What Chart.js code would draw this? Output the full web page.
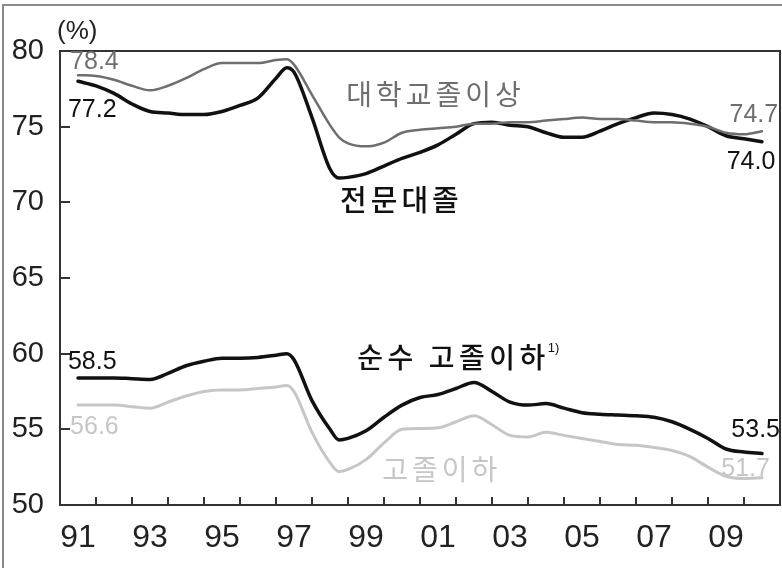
<!DOCTYPE html>
<html>
<head>
<meta charset="utf-8">
<script src="https://cdn.jsdelivr.net/npm/chart.js@4.4.0/dist/chart.umd.min.js"></script>
<style>
  html, body { margin: 0; padding: 0; background: #fff; }
  #wrap { width: 782px; height: 568px; position: relative; }
</style>
</head>
<body>
<div id="wrap"><canvas id="chart" width="782" height="568"></canvas></div>
<script>
// x positions in years (half-year steps, a few extra points around 1997-98)
const years = [1991.5,1992,1992.5,1993,1993.5,1994,1994.5,1995,1995.5,1996,1996.5,1997,
  1997.3,1997.5,1998,1998.5,1998.75,1999,
  1999.5,2000,2000.5,2001,2001.5,2002,2002.5,2003,2003.5,2004,2004.5,2005,2005.5,2006,
  2006.5,2007,2007.5,2008,2008.5,2009,2009.5,2010,2010.5];

// 대학교졸이상
const univ = [78.4,78.35,78.1,77.7,77.4,77.7,78.2,78.8,79.2,79.2,79.2,79.4,
  79.45,79.1,77.1,75.1,74.3,73.9,
  73.7,73.95,74.6,74.8,74.9,75.0,75.2,75.2,75.3,75.3,75.4,75.5,75.6,75.5,
  75.5,75.4,75.3,75.3,75.2,75.0,74.6,74.5,74.7];

// 전문대졸
const college = [78.0,77.7,77.2,76.5,76.0,75.9,75.8,75.8,76.0,76.4,76.9,78.2,
  78.9,78.6,75.6,72.2,71.6,71.65,
  71.9,72.4,72.9,73.3,73.8,74.5,75.2,75.3,75.1,75.0,74.6,74.3,74.3,74.7,
  75.2,75.6,75.9,75.8,75.5,75.0,74.4,74.2,74.0];

// 순수 고졸이하
const pureHigh = [58.4,58.4,58.4,58.35,58.3,58.7,59.2,59.5,59.7,59.7,59.75,59.9,
  60.0,59.6,56.9,55.0,54.3,54.4,
  54.9,55.8,56.6,57.1,57.3,57.7,58.1,57.5,56.8,56.6,56.7,56.4,56.1,56.0,
  55.95,55.9,55.8,55.5,55.0,54.4,53.7,53.5,53.4];

// 고졸이하
const high = [56.6,56.6,56.6,56.5,56.4,56.8,57.2,57.5,57.6,57.6,57.7,57.8,
  57.9,57.5,54.8,52.8,52.2,52.35,
  53.0,54.1,55.0,55.05,55.1,55.5,55.9,55.3,54.6,54.5,54.8,54.6,54.4,54.2,
  54.0,53.95,53.8,53.6,53.2,52.5,51.9,51.75,51.8];

const xLabelYears = [1991,1993,1995,1997,1999,2001,2003,2005,2007,2009];
const xLabels = ['91','93','95','97','99','01','03','05','07','09'];
const yTicks = [50,55,60,65,70,75,80];

const BLACK = '#111111';
const GRAY = '#6e6e6e';
const LIGHT = '#c6c6c6';
const NUM_FONT = "'Liberation Sans', Arial, sans-serif";
const KR_FONT = "'Noto Sans CJK KR', 'Noto Sans', sans-serif";

// text labels placed in data coordinates: [text, year, value, color, align, font, spacing]
const notes = [
  ['78.4', 1991.28, 79.25, GRAY, 'left', '25px ' + NUM_FONT, 0],
  ['77.2', 1991.22, 76.1, BLACK, 'left', '25px ' + NUM_FONT, 0],
  ['대학교졸이상', 1998.95, 77.15, GRAY, 'left', '28px ' + KR_FONT, 4],
  ['74.7', 2010.95, 75.77, GRAY, 'right', '25px ' + NUM_FONT, 0],
  ['74.0', 2010.87, 72.66, BLACK, 'right', '25px ' + NUM_FONT, 0],
  ['전문대졸', 1998.78, 70.15, BLACK, 'left', '500 29px ' + KR_FONT, 4],
  ['58.5', 1991.22, 59.45, BLACK, 'left', '25px ' + NUM_FONT, 0],
  ['56.6', 1991.28, 55.15, LIGHT, 'left', '25px ' + NUM_FONT, 0],
  ['순수 고졸이하', 1999.26, 59.78, BLACK, 'left', '500 28px ' + KR_FONT, 4.5],
  ['53.5', 2011.0, 54.95, BLACK, 'right', '25px ' + NUM_FONT, 0],
  ['고졸이하', 1999.95, 52.37, LIGHT, 'left', '28px ' + KR_FONT, 4],
  ['51.7', 2010.72, 52.37, LIGHT, 'right', '25px ' + NUM_FONT, 0]
];

const toPoints = arr => arr.map((v, i) => ({ x: years[i], y: v }));

const framePlugin = {
  id: 'frame',
  afterDraw(chart) {
    const { ctx, chartArea: a, scales: { x, y } } = chart;
    ctx.save();
    // outer picture frame
    ctx.strokeStyle = '#8a8a8a';
    ctx.lineWidth = 2;
    ctx.beginPath();
    ctx.moveTo(3, 568); ctx.lineTo(3, 5); ctx.lineTo(782, 5);
    ctx.stroke();
    // plot box
    ctx.strokeStyle = '#333';
    ctx.lineWidth = 2;
    ctx.strokeRect(a.left, a.top, a.right - a.left, a.bottom - a.top);
    // inward tick marks
    ctx.beginPath();
    for (let yr = 1992; yr <= 2010; yr++) {
      const px = Math.round(x.getPixelForValue(yr));
      ctx.moveTo(px, a.bottom); ctx.lineTo(px, a.bottom - 8);
    }
    yTicks.slice(1, -1).forEach(v => {
      const py = Math.round(y.getPixelForValue(v));
      ctx.moveTo(a.left, py); ctx.lineTo(a.left + 10, py);
    });
    ctx.stroke();
    // unit
    ctx.fillStyle = '#222';
    ctx.font = '26px ' + NUM_FONT;
    ctx.textAlign = 'left';
    ctx.textBaseline = 'middle';
    ctx.fillText('(%)', a.left - 3, a.top - 19);
    // series labels
    notes.forEach(([t, yr, v, c, al, f, sp]) => {
      ctx.fillStyle = c;
      ctx.font = f;
      ctx.textAlign = al;
      ctx.letterSpacing = sp + 'px';
      const px = x.getPixelForValue(yr);
      const py = y.getPixelForValue(v);
      ctx.fillText(t, px, py);
      if (t === '순수 고졸이하') {
        const w = ctx.measureText(t).width;
        ctx.letterSpacing = '0px';
        ctx.font = '13px ' + NUM_FONT;
        ctx.fillText('1)', px + w - 2, py - 9);
      }
    });
    ctx.letterSpacing = '0px';
    ctx.restore();
  }
};

new Chart(document.getElementById('chart'), {
  type: 'line',
  data: {
    datasets: [
      { label: '고졸이하', data: toPoints(high), borderColor: LIGHT, borderWidth: 3 },
      { label: '대학교졸이상', data: toPoints(univ), borderColor: GRAY, borderWidth: 2.5 },
      { label: '순수 고졸이하', data: toPoints(pureHigh), borderColor: BLACK, borderWidth: 3.5 },
      { label: '전문대졸', data: toPoints(college), borderColor: BLACK, borderWidth: 3.5 }
    ]
  },
  options: {
    responsive: false,
    animation: false,
    devicePixelRatio: 1,
    layout: { padding: { top: 51, right: 2, left: 0, bottom: 0 } },
    elements: {
      point: { radius: 0 },
      line: { cubicInterpolationMode: 'monotone', borderCapStyle: 'round', borderJoinStyle: 'round', fill: false }
    },
    plugins: { legend: { display: false }, tooltip: { enabled: false } },
    scales: {
      x: {
        type: 'linear',
        min: 1991,
        max: 2011,
        border: { display: false },
        grid: { display: false, drawTicks: false },
        afterBuildTicks: s => { s.ticks = xLabelYears.map(yr => ({ value: yr + 0.5 })); },
        afterFit: s => { s.height = 63; },
        ticks: {
          autoSkip: false,
          maxRotation: 0,
          padding: 14,
          color: '#222',
          font: { family: NUM_FONT, size: 32 },
          callback: (v, i) => xLabels[i]
        }
      },
      y: {
        min: 50,
        max: 80,
        border: { display: false },
        grid: { display: false, drawTicks: false },
        afterBuildTicks: s => { s.ticks = yTicks.map(v => ({ value: v })); },
        afterFit: s => { s.width = 60; },
        ticks: {
          padding: 16,
          color: '#222',
          font: { family: NUM_FONT, size: 29 }
        }
      }
    }
  },
  plugins: [framePlugin]
});
</script>
</body>
</html>
